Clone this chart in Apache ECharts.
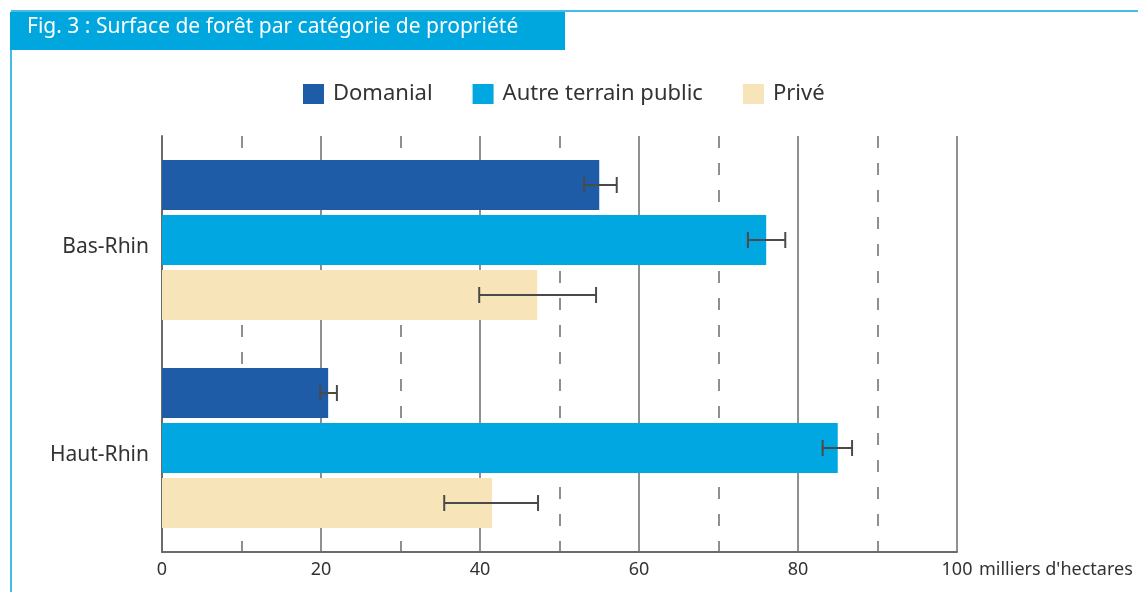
<!DOCTYPE html>
<html>
<head>
<meta charset="utf-8">
<script src="https://cdn.jsdelivr.net/npm/echarts@6/dist/echarts.min.js"></script>
<style>
  html, body { margin: 0; padding: 0; background: #fff; }
  #chart { width: 1138px; height: 592px; }
</style>
</head>
<body>
<div id="chart"></div>
<script>
// catégories et valeurs (milliers d'hectares)
const categories = ['Bas-Rhin', 'Haut-Rhin']
const xTicks = [0, 20, 40, 60, 80, 100]
const domanial = [55.0, 20.9]
const domanialLow = [53.1, 19.9]
const domanialHigh = [57.2, 22.0]
const autrePublic = [76.0, 85.0]
const autrePublicLow = [73.7, 83.1]
const autrePublicHigh = [78.4, 86.8]
const prive = [47.2, 41.5]
const priveLow = [39.9, 35.5]
const priveHigh = [54.6, 47.3]

const font = '"Noto Sans", "Open Sans", sans-serif'
const barW = 50
const barGapPx = 5
const lineGray = '#6b6b6b'

// barres d'erreur : [bas, haut, catégorie, série]
const errData = []
const lows = [domanialLow, autrePublicLow, priveLow]
const highs = [domanialHigh, autrePublicHigh, priveHigh]
for (let s = 0; s < 3; s++) {
  for (let c = 0; c < categories.length; c++) {
    errData.push([lows[s][c], highs[s][c], c, s])
  }
}

const chart = echarts.init(document.getElementById('chart'))
const option = {
  animation: false,
  textStyle: { fontFamily: font },
  color: ['#1f5ca8', '#00a7e1', '#f7e4b8'],
  graphic: [
    { type: 'rect', shape: { x: 11, y: 10, width: 1127, height: 2 }, style: { fill: '#45bde9' } },
    { type: 'rect', shape: { x: 10, y: 12, width: 2, height: 580 }, style: { fill: '#45bde9' } },
    { type: 'rect', shape: { x: 10, y: 12, width: 555, height: 38 }, style: { fill: '#00a6de' } },
    {
      type: 'text',
      left: 27,
      top: 17,
      style: {
        text: 'Fig. 3 : Surface de forêt par catégorie de propriété',
        fill: '#fff',
        font: '21px ' + font
      }
    }
  ],
  legend: {
    left: 298,
    top: 78,
    itemWidth: 21,
    itemHeight: 20,
    itemGap: 40,
    icon: 'rect',
    textStyle: { fontSize: 22, color: '#333', fontFamily: font, padding: [0, 0, 0, 4] },
    data: ['Domanial', 'Autre terrain public', 'Privé']
  },
  grid: {
    left: 162,
    right: 181,
    top: 136,
    bottom: 40
  },
  xAxis: {
    type: 'value',
    min: 0,
    max: 100,
    interval: 20,
    name: "milliers d'hectares",
    nameLocation: 'end',
    nameGap: 22,
    nameTextStyle: { fontSize: 18, color: '#333', verticalAlign: 'top', padding: [9, 0, 0, 0] },
    axisLine: { show: true, lineStyle: { color: lineGray, width: 2 } },
    axisTick: { show: false },
    axisLabel: {
      fontSize: 18,
      color: '#333',
      margin: 9,
      formatter: v => (xTicks.indexOf(v) >= 0 ? String(v) : '')
    },
    splitLine: { show: true, lineStyle: { color: lineGray, width: 1.5 } },
    minorTick: { show: false, splitNumber: 2 },
    minorSplitLine: { show: true, lineStyle: { color: lineGray, width: 1.5, type: [12, 15] } }
  },
  yAxis: {
    type: 'category',
    inverse: true,
    data: categories,
    axisLine: { show: true, lineStyle: { color: lineGray, width: 2 } },
    axisTick: { show: false },
    axisLabel: { fontSize: 21, color: '#333', margin: 13, verticalAlign: 'top', lineHeight: 14 }
  },
  series: [
    { name: 'Domanial', type: 'bar', data: domanial, barWidth: barW, barGap: '10%' },
    { name: 'Autre terrain public', type: 'bar', data: autrePublic, barWidth: barW, barGap: '10%' },
    { name: 'Privé', type: 'bar', data: prive, barWidth: barW, barGap: '10%' },
    {
      type: 'custom',
      data: errData,
      z: 10,
      encode: { x: [0, 1], y: 2 },
      renderItem: (params, api) => {
        const cat = api.value(2)
        const s = api.value(3)
        const off = (s - 1) * (barW + barGapPx)
        const p1 = api.coord([api.value(0), cat])
        const p2 = api.coord([api.value(1), cat])
        const y = p1[1] + off
        const h = 8
        const style = { stroke: '#4a4a4a', lineWidth: 2 }
        return {
          type: 'group',
          children: [
            { type: 'line', shape: { x1: p1[0], y1: y, x2: p2[0], y2: y }, style },
            { type: 'line', shape: { x1: p1[0], y1: y - h, x2: p1[0], y2: y + h }, style },
            { type: 'line', shape: { x1: p2[0], y1: y - h, x2: p2[0], y2: y + h }, style }
          ]
        }
      }
    }
  ]
}
chart.setOption(option)
</script>
</body>
</html>
